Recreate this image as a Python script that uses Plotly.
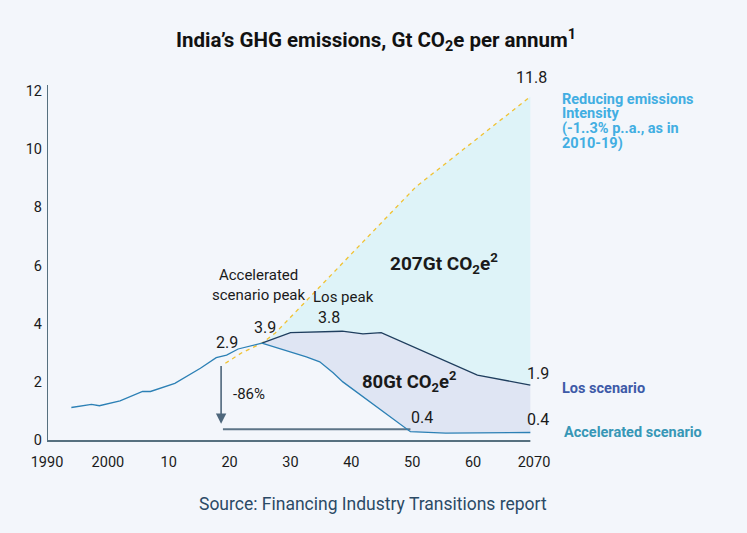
import plotly.graph_objects as go

# ---------------- data ----------------
hist_years = [1994, 1997.3, 1998.6, 2002, 2005.7, 2007, 2011, 2015.2, 2017.8, 2019.5, 2021.4, 2025.3]
hist_vals = [1.12, 1.23, 1.18, 1.35, 1.67, 1.67, 1.95, 2.47, 2.83, 2.92, 3.13, 3.33]

los_years = [2025.3, 2030, 2038.5, 2041.9, 2044.9, 2060.7, 2069.4]
los_vals = [3.33, 3.69, 3.74, 3.65, 3.69, 2.23, 1.89]

acc_years = [2025.3, 2032.6, 2034.8, 2037, 2038.6, 2049.7, 2055.5, 2069.4]
acc_vals = [3.33, 2.86, 2.69, 2.31, 2.0, 0.29, 0.24, 0.26]

red_years = [2019.3, 2022, 2025.3, 2027.5, 2030, 2050.6, 2069.4]
red_vals = [2.64, 3.0, 3.33, 3.68, 4.22, 8.7, 11.8]

target_level = 0.37
arrow_year, arrow_from, arrow_to = 2018.6, 2.6, 0.56

x_tickvals = [1990, 2000, 2010, 2020, 2030, 2040, 2050, 2060, 2070]
x_ticktext = ["1990", "2000", "10", "20", "30", "40", "50", "60", "2070"]
y_tickvals = [0, 2, 4, 6, 8, 10, 12]

reducing_lines = ["Reducing emissions", "Intensity", "(-1..3% p..a., as in", "2010-19)"]

BG = "#f3f6fb"
FONT = "Roboto"
W, H = 747, 533
ML, MR, MT, MB = 47, 213, 85, 90
PW, PH = W - ML - MR, H - MT - MB


def px_x(p):
    return (p - ML) / PW


def px_y(p):
    return (H - MB - p) / PH


fig = go.Figure()

# cyan fill between reducing-intensity line and Los scenario (from crossing on)
i0 = red_years.index(2025.3)
cy_x = red_years[i0:] + los_years[::-1]
cy_y = red_vals[i0:] + los_vals[::-1]
fig.add_trace(go.Scatter(x=cy_x, y=cy_y, fill="toself", fillcolor="#def3f8",
                         line=dict(width=0), mode="none", hoverinfo="skip"))

# lavender fill between Los and accelerated
lv_x = los_years + acc_years[::-1]
lv_y = los_vals + acc_vals[::-1]
fig.add_trace(go.Scatter(x=lv_x, y=lv_y, fill="toself", fillcolor="#dfe5f3",
                         line=dict(width=0), mode="none", hoverinfo="skip"))

# target horizontal line
fig.add_trace(go.Scatter(x=[arrow_year + 0.3, 2049.7], y=[target_level, target_level],
                         mode="lines", line=dict(color="#5d7487", width=2), hoverinfo="skip"))

# reducing intensity dashed line
fig.add_trace(go.Scatter(x=red_years, y=red_vals, mode="lines",
                         line=dict(color="#f0c232", width=1.3, dash="4px,4px"), hoverinfo="skip"))

# Los scenario
fig.add_trace(go.Scatter(x=los_years, y=los_vals, mode="lines",
                         line=dict(color="#1f3e5e", width=1.3), hoverinfo="skip"))
# accelerated scenario
fig.add_trace(go.Scatter(x=acc_years, y=acc_vals, mode="lines",
                         line=dict(color="#2c80b5", width=1.3), hoverinfo="skip"))
# historical
fig.add_trace(go.Scatter(x=hist_years, y=hist_vals, mode="lines",
                         line=dict(color="#2c80b5", width=1.3), hoverinfo="skip"))

# axis lines
fig.add_shape(type="line", xref="x", yref="y", x0=1990, x1=2069.4, y0=-0.03, y1=-0.03,
              line=dict(color="#56707f", width=2))
fig.add_shape(type="line", xref="x", yref="paper", x0=1990, x1=1990, y0=0.005, y1=1,
              line=dict(color="#56707f", width=2))

ann = []


def txt(x, y, t, size=15, color="#1a1a1a", bold=False, xanchor="center", yanchor="middle",
        align="center", xref="x", yref="y"):
    ann.append(dict(x=x, y=y, xref=xref, yref=yref, text=(f"<b>{t}</b>" if bold else t),
                    showarrow=False, xanchor=xanchor, yanchor=yanchor, align=align,
                    font=dict(family=FONT, size=size, color=color)))


# labels outside the plot area use paper coords (derived from pixel layout)
txt(px_x(531), px_y(77), "11.8", size=16, xref="paper", yref="paper")
txt(px_x(538), px_y(373), "1.9", size=16, xref="paper", yref="paper")
txt(px_x(538), px_y(419), "0.4", size=16, xref="paper", yref="paper")
txt(2051.6, 0.76, "0.4", size=16)
txt(2036.3, 4.22, "3.8", size=16)
txt(2025.8, 3.88, "3.9", size=16)
txt(2019.5, 3.36, "2.9", size=16)
txt(2038.7, 4.91, "Los peak", size=15)
txt(2024.9, 5.32, "Accelerated<br>scenario peak", size=15)
txt(2023.2, 1.58, "-86%", size=15)
txt(2055.2, 6.08, "207Gt CO<sub>2</sub>e<sup>2</sup>", size=19, bold=True)
txt(2049.4, 2.03, "80Gt CO<sub>2</sub>e<sup>2</sup>", size=18.5, bold=True)
for k, line in enumerate(reducing_lines):
    txt(px_x(560), px_y(99 + 14.7 * k), line, size=14.5, color="#42aee2", bold=True,
        xanchor="left", xref="paper", yref="paper")
txt(px_x(560), px_y(388), "Los scenario", size=14.5, color="#3e5aa8", bold=True, xanchor="left",
    xref="paper", yref="paper")
txt(px_x(562), px_y(432), "Accelerated scenario", size=14.5, color="#3797b6", bold=True,
    xanchor="left", xref="paper", yref="paper")

ann.append(dict(x=arrow_year, y=arrow_to, ax=arrow_year, ay=arrow_from, xref="x", yref="y",
                axref="x", ayref="y", showarrow=True, arrowhead=2, arrowsize=1.3,
                arrowwidth=1.6, arrowcolor="#4e677c", text=""))

# source (paper coords are relative to the plot area)
ann.append(dict(x=px_x(373), y=px_y(504), xref="paper", yref="paper", showarrow=False,
                text="Source: Financing Industry Transitions report",
                font=dict(family=FONT, size=17.5, color="#2b4a66"), xanchor="center",
                yanchor="middle"))

fig.update_layout(
    width=W, height=H,
    paper_bgcolor=BG, plot_bgcolor=BG,
    margin=dict(l=ML, r=MR, t=MT, b=MB, pad=0),
    showlegend=False,
    title=dict(text="<b>India’s GHG emissions, Gt CO<sub>2</sub>e per annum<sup>1</sup></b>",
               x=376 / W, y=1 - 40 / H, xref="container", yref="container",
               xanchor="center", yanchor="middle",
               font=dict(family=FONT, size=20.5, color="#111111")),
    annotations=ann,
    xaxis=dict(range=[1990, 2070], tickvals=x_tickvals, ticktext=x_ticktext,
               showgrid=False, zeroline=False, showline=False, ticks="",
               ticklabelstandoff=8,
               tickfont=dict(family=FONT, size=14.5, color="#1a1a1a")),
    yaxis=dict(range=[-0.1, 12.2], tickvals=y_tickvals, showgrid=False, zeroline=False,
               showline=False, ticks="", ticklabelstandoff=4,
               tickfont=dict(family=FONT, size=14.5, color="#1a1a1a")),
)

fig.write_html("out.html", config={"displayModeBar": False},
               post_script="document.body.style.margin='0';")
